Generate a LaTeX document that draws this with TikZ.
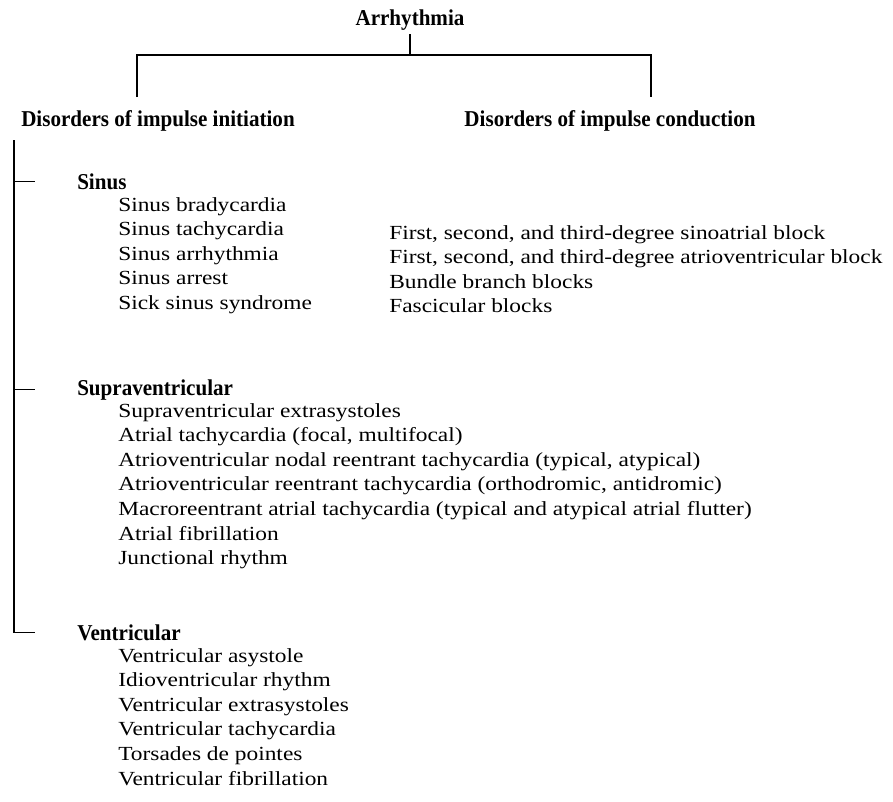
\documentclass[tikz,border=0pt]{standalone}
\usepackage{fontspec}
\setmainfont{Liberation Serif}
\newfontfamily\entryfont[FakeStretch=1.17]{Liberation Serif}
\newfontfamily\headfont[FakeStretch=0.93]{Liberation Serif}
\usetikzlibrary{positioning}

\begin{document}
\begin{tikzpicture}[x=0.75pt,y=-0.75pt,
  head/.style={font=\headfont\fontsize{17}{20}\selectfont\bfseries, inner sep=0pt, anchor=base},
  group/.style={head, anchor=base west},
  entry/.style={font=\entryfont\fontsize{15}{18}\selectfont, inner sep=0pt, anchor=base west},
  tree/.style={line width=1.1pt}]
\useasboundingbox (0,0) rectangle (893,801);

% top of the tree
\node[head] (arr) at (410,25) {Arrhythmia};
\node[head] (init) at (158,126) {Disorders of impulse initiation};
\node[head] (cond) at (610,126) {Disorders of impulse conduction};

\coordinate (fork) at (410,55);
\coordinate (forkL) at (137,55);
\coordinate (forkR) at (651,55);
\coordinate (dropL) at (137,97);
\coordinate (dropR) at (651,97);
\draw[tree] (arr.south) ++(0,4) -- (fork);
\draw[tree] (dropL) -- (forkL) -- (forkR) -- (dropR);

% initiation side
\node[group] (sinus) at (77,189) {Sinus};
\node[group] (supra) at (77,395) {Supraventricular};
\node[group] (vent) at (77,640) {Ventricular};

\coordinate (spine) at (14,140);
\draw[tree] (spine) -- (spine |- vent.west) -- ++(21,0);
\draw[tree] (spine |- sinus.west) -- ++(21,0);
\draw[tree] (spine |- supra.west) -- ++(21,0);

\foreach \t [count=\i] in {Sinus bradycardia, Sinus tachycardia,
    Sinus arrhythmia, Sinus arrest, Sick sinus syndrome}
  \node[entry] (sin-\i) at (118,{211+24.6*(\i-1)}) {\t};

\foreach \t [count=\i] in {Supraventricular extrasystoles,
    {Atrial tachycardia (focal, multifocal)},
    {Atrioventricular nodal reentrant tachycardia (typical, atypical)},
    {Atrioventricular reentrant tachycardia (orthodromic, antidromic)},
    Macroreentrant atrial tachycardia (typical and atypical atrial flutter),
    Atrial fibrillation, Junctional rhythm}
  \node[entry] (sup-\i) at (118,{417+24.6*(\i-1)}) {\t};

\foreach \t [count=\i] in {Ventricular asystole, Idioventricular rhythm,
    Ventricular extrasystoles, Ventricular tachycardia,
    Torsades de pointes, Ventricular fibrillation}
  \node[entry] (ven-\i) at (118,{662+24.6*(\i-1)}) {\t};

% conduction side
\foreach \t [count=\i] in {{First, second, and third-degree sinoatrial block},
    {First, second, and third-degree atrioventricular block},
    Bundle branch blocks, Fascicular blocks}
  \node[entry] (blk-\i) at (389,{239+24.6*(\i-1)}) {\t};
\end{tikzpicture}
\end{document}
